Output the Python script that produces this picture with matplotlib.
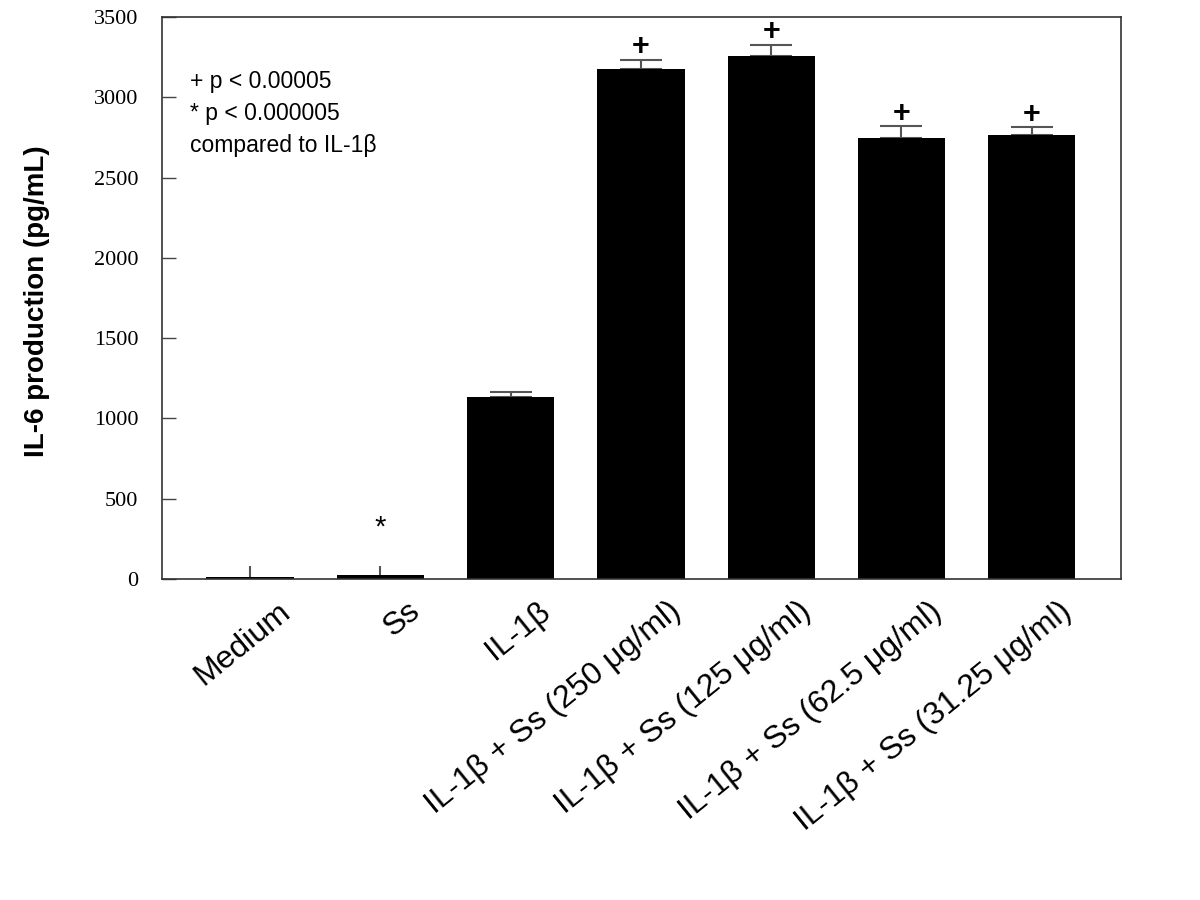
import matplotlib
matplotlib.use("Agg")
import matplotlib.pyplot as plt
import matplotlib.transforms as mtransforms
import numpy as np

categories = ["Medium", "Ss", "IL-1β",
              "IL-1β + Ss (250 μg/ml)", "IL-1β + Ss (125 μg/ml)",
              "IL-1β + Ss (62.5 μg/ml)", "IL-1β + Ss (31.25 μg/ml)"]
values = [10, 25, 1133, 3176, 3257, 2746, 2765]
errors = [72, 56, 31, 58, 71, 75, 50]
marks = ["", "*", "", "+", "+", "+", "+"]
yticks = [0, 500, 1000, 1500, 2000, 2500, 3000, 3500]
legend_lines = ["+ p < 0.00005", "* p < 0.000005", "compared to IL-1β"]

fig = plt.figure(figsize=(12, 9), dpi=100)
ax = fig.add_axes([0.135, 0.3567, 0.7992, 0.6243])

x = np.arange(len(categories))
ax.bar(x, values, width=0.67, color="black", zorder=2)

for i in range(len(categories)):
    cap = 15 if values[i] > 500 else 0
    ax.errorbar(x[i], values[i], yerr=[[0], [errors[i]]], fmt="none",
                ecolor="#555555", elinewidth=1.5, capsize=cap, capthick=1.5,
                zorder=1)

for i, m in enumerate(marks):
    if m == "+":
        ax.annotate(m, (x[i], values[i] + errors[i]), xytext=(0, 9),
                    textcoords="offset points", ha="center", va="center",
                    fontsize=22, fontweight="bold", family="Liberation Sans",
                    color="black")
    elif m == "*":
        ax.text(x[i], 318, m, ha="center", va="center", fontsize=21,
                family="Liberation Sans", color="black")

ax.set_xlim(-0.675, 6.685)
ax.set_ylim(0, 3500)
ax.set_yticks(yticks)
ax.set_yticklabels([str(t) for t in yticks], family="Liberation Serif",
                   fontsize=16)
ax.tick_params(axis="y", direction="in", length=10, width=1, pad=17,
               colors="#444444", labelcolor="black")
ax.tick_params(axis="x", length=0, pad=8)
ax.set_xticks(x)
ax.set_xticklabels(categories, rotation=39, ha="right",
                   rotation_mode="anchor", family="Liberation Sans",
                   fontsize=23)
offset = mtransforms.ScaledTranslation(0.27, -0.06, fig.dpi_scale_trans)
for lab in ax.get_xticklabels():
    lab.set_transform(lab.get_transform() + offset)

for s in ax.spines.values():
    s.set_color("#333333")
    s.set_linewidth(1.2)

ax.set_ylabel("IL-6 production (pg/mL)", family="Liberation Sans",
              fontweight="bold", fontsize=20)
ax.yaxis.set_label_coords(-0.117, 0.495)

ax.text(0.029, 0.905, "\n".join(legend_lines), transform=ax.transAxes,
        ha="left", va="top", fontsize=16.5, family="Liberation Sans",
        linespacing=1.5)

fig.savefig("out.png", dpi=100)
